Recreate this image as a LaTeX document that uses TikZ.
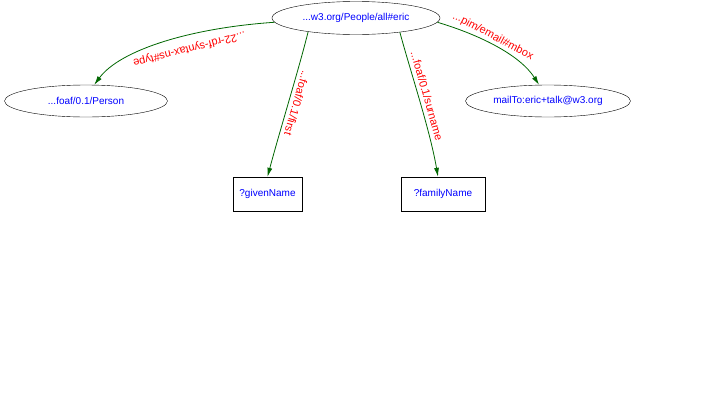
\documentclass[tikz,border=0pt]{standalone}
\usepackage{fontspec}
\setmainfont{Liberation Sans}
\usetikzlibrary{positioning,arrows.meta,shapes.geometric}

\begin{document}
\begin{tikzpicture}[x=1pt, y=-1pt, >={Latex[length=9pt,width=5pt]},
  every node/.style={font=\fontsize{10}{12}\selectfont},
  res/.style={draw, ellipse, inner sep=0pt, minimum height=32pt, text=blue},
  var/.style={draw, rectangle, inner sep=0pt, minimum height=34pt, text=blue},
  prop/.style={->, draw=green!40!black, line width=0.8pt},
  lbl/.style={text=red, sloped, allow upside down, inner sep=1pt,
              font=\fontsize{11}{13}\selectfont}]

  \useasboundingbox (0,0) rectangle (702,402);

  %% ─── Subject ────────────────────────────────────────────────────────────
  \node[res, minimum width=168pt, minimum height=33pt] (eric) at (356,18)
    {...w3.org/People/all\#eric};

  %% ─── Objects ────────────────────────────────────────────────────────────
  \node[res, minimum width=163pt] (person) at (86,101) {...foaf/0.1/Person};
  \node[res, minimum width=165pt] (mbox)   at (548,101) {mailTo:eric+talk@w3.org};
  \node[var, minimum width=69pt]  (given)  at (267.5,194) {?givenName};
  \node[var, minimum width=84pt]  (family) at (443,194) {?familyName};

  %% ─── Properties ─────────────────────────────────────────────────────────
  \draw[prop] (eric.183) .. controls (190,28) and (120,50) ..
    node[lbl, pos=0.38, above=7pt] {...22-rdf-syntax-ns\#type} (person.63);
  \draw[prop] (eric.196) .. controls (300,65) and (280,130) ..
    node[lbl, pos=0.51, above=3pt] {...foaf/0.1/first} (given.north);
  \draw[prop] (eric.-18) .. controls (410,70) and (430,130) ..
    node[lbl, pos=0.48, above=3pt] {...foaf/0.1/surname} ([xshift=-5pt]family.north);
  \draw[prop] (eric.-3) .. controls (480,35) and (520,55) ..
    node[lbl, pos=0.43, above=1pt] {...pim/email\#mbox} (mbox.119);
\end{tikzpicture}
\end{document}
